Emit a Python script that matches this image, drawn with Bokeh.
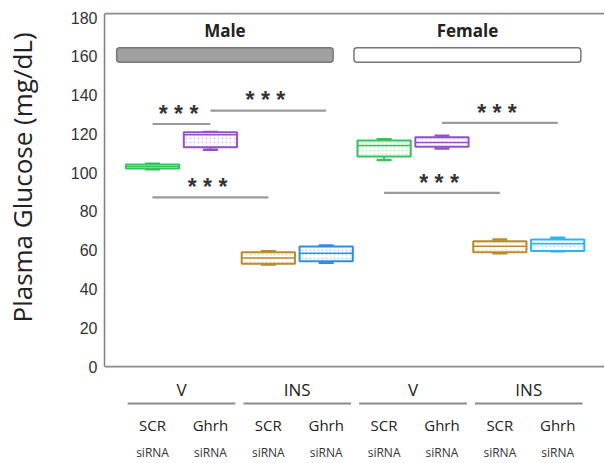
import numpy as np
from bokeh.plotting import figure
from bokeh.models import ColumnDataSource, Range1d, FixedTicker
from bokeh.core.properties import value
from bokeh.embed import file_html
from bokeh.resources import INLINE

# ---------------- data ----------------
sex = ["Male", "Male", "Male", "Male", "Female", "Female", "Female", "Female"]
treatment = ["V", "V", "INS", "INS", "V", "V", "INS", "INS"]
sirna = ["SCR", "Ghrh", "SCR", "Ghrh", "SCR", "Ghrh", "SCR", "Ghrh"]
whisk_lo = [101.8, 111.8, 52.6, 53.5, 106.5, 112.5, 58.4, 59.5]
q1 = [102.2, 113.1, 53.0, 54.3, 108.3, 113.3, 59.0, 59.6]
median = [103.2, 119.5, 56.0, 58.4, 114.0, 115.6, 62.0, 63.3]
q3 = [104.2, 120.8, 58.9, 61.9, 116.6, 118.2, 64.6, 65.5]
whisk_hi = [104.6, 121.0, 59.5, 62.4, 117.2, 119.0, 65.5, 66.4]
box_colors = ["#35c35a", "#9650c8", "#bd8a2c", "#2f8ee2",
              "#35c35a", "#9650c8", "#bd8a2c", "#2db3f2"]

sig_from = [1, 2, 1, 6, 5]
sig_to = [2, 4, 3, 8, 7]
sig_y = [125.1, 132.0, 87.3, 125.7, 89.6]
sig_text = ["* * *", "* * *", "* * *", "* * *", "* * *"]

sex_labels = ["Male", "Female"]
sex_fill = ["#a0a0a0", "#ffffff"]
y_ticks = [0, 20, 40, 60, 80, 100, 120, 140, 160, 180]
y_title = "Plasma Glucose (mg/dL)"

# ---------------- figure ----------------
pos = np.arange(1, len(sirna) + 1)

p = figure(width=604, height=462, x_range=Range1d(0.17, 8.808),
           y_range=Range1d(-49.5, 188.8), output_backend="svg",
           toolbar_location=None, x_axis_location=None,
           min_border_left=103, min_border_right=0, min_border_top=0,
           min_border_bottom=0)
p.outline_line_color = None
p.xgrid.visible = False
p.ygrid.visible = False
p.background_fill_color = "white"

ax = p.yaxis[0]
ax.ticker = FixedTicker(ticks=y_ticks)
ax.bounds = (0, 182)
ax.axis_line_color = "#808080"
ax.axis_line_width = 1.5
ax.major_tick_out = 0
ax.major_tick_in = 0
ax.minor_tick_out = 0
ax.minor_tick_in = 0
ax.major_label_standoff = 7
ax.major_label_text_font = "Liberation Sans"
ax.major_label_text_font_size = "16px"
ax.major_label_text_color = "#333333"
# leading no-break spaces lift the visible title above the frame centre
ax.axis_label = "\u00a0" * 16 + y_title
ax.axis_label_text_font = "Open Sans"
ax.axis_label_text_font_style = "normal"
ax.axis_label_text_font_size = "26px"
ax.axis_label_text_color = "#222222"
ax.axis_label_standoff = 28

# frame top / bottom lines
p.segment(x0=[0.17, 0.17], x1=[8.808, 8.808], y0=[0, 182], y1=[0, 182],
          line_color="#8a8a8a", line_width=1.8)

# sex header bars
bar_left = [0.38, 4.48]
bar_right = [4.12, 8.40]
p.quad(left=bar_left, right=bar_right, bottom=[156.9] * 2, top=[164.4] * 2,
       fill_color=sex_fill, line_color="#777777", line_width=1.5,
       border_radius=3)
p.text(x=[(a + b) / 2 for a, b in zip(bar_left, bar_right)], y=[173.4, 173.4],
       text=sex_labels, text_font=value("Open Sans"), text_font_style="bold",
       text_font_size="17px", text_align="center", text_baseline="middle",
       text_color="#222222")

# boxes
src = ColumnDataSource(dict(x=pos, lo=whisk_lo, q1=q1, med=median, q3=q3,
                            hi=whisk_hi, color=box_colors))
p.segment(x0="x", x1="x", y0="lo", y1="q1", line_color="color",
          line_width=2, source=src)
p.segment(x0="x", x1="x", y0="q3", y1="hi", line_color="color",
          line_width=2, source=src)
src_cap = ColumnDataSource(dict(x0=pos - 0.13, x1=pos + 0.13, lo=whisk_lo,
                                hi=whisk_hi, color=box_colors))
p.segment(x0="x0", x1="x1", y0="lo", y1="lo", line_color="color",
          line_width=2.5, source=src_cap)
p.segment(x0="x0", x1="x1", y0="hi", y1="hi", line_color="color",
          line_width=2.5, source=src_cap)
p.vbar(x="x", width=0.92, bottom="q1", top="q3", fill_color="white",
       line_color="color", line_width=2, hatch_pattern="dot",
       hatch_color="color", hatch_alpha=0.35, hatch_scale=4, source=src)
src_med = ColumnDataSource(dict(x0=pos - 0.46, x1=pos + 0.46, med=median,
                                color=box_colors))
p.segment(x0="x0", x1="x1", y0="med", y1="med", line_color="color",
          line_width=1.5, source=src_med)

# significance
sx0 = [pos[i - 1] for i in sig_from]
sx1 = [pos[j - 1] for j in sig_to]
p.segment(x0=sx0, x1=sx1, y0=sig_y, y1=sig_y, line_color="#9a9a9a",
          line_width=2.2)
p.text(x=[(a + b) / 2 - 0.05 for a, b in zip(sx0, sx1)],
       y=[v + 5.3 for v in sig_y], text=sig_text,
       text_font=value("Liberation Sans"), text_font_style="bold",
       text_font_size="23px",
       text_align="center", text_baseline="alphabetic", text_color="#333333")

# bottom category labels
grp_centers = [(pos[k] + pos[k + 1]) / 2 for k in range(0, len(pos), 2)]
grp_labels = [treatment[k] for k in range(0, len(pos), 2)]
p.text(x=grp_centers, y=[-11.9] * len(grp_centers), text=grp_labels,
       text_font=value("Open Sans"), text_font_size="17px",
       text_align="center", text_baseline="middle", text_color="#222222")
p.segment(x0=[c - 0.93 for c in grp_centers], x1=[c + 0.93 for c in grp_centers],
          y0=[-19.1] * len(grp_centers), y1=[-19.1] * len(grp_centers),
          line_color="#8a8a8a", line_width=2)
p.text(x=pos, y=[-30.4] * len(pos), text=sirna, text_font=value("Open Sans"),
       text_font_size="15px", text_align="center", text_baseline="middle",
       text_color="#222222")
p.text(x=pos, y=[-44.4] * len(pos), text=["siRNA"] * len(pos),
       text_font=value("Open Sans"), text_font_size="12px",
       text_align="center", text_baseline="middle", text_color="#333333")

open("out.html", "w").write(file_html(p, INLINE))
